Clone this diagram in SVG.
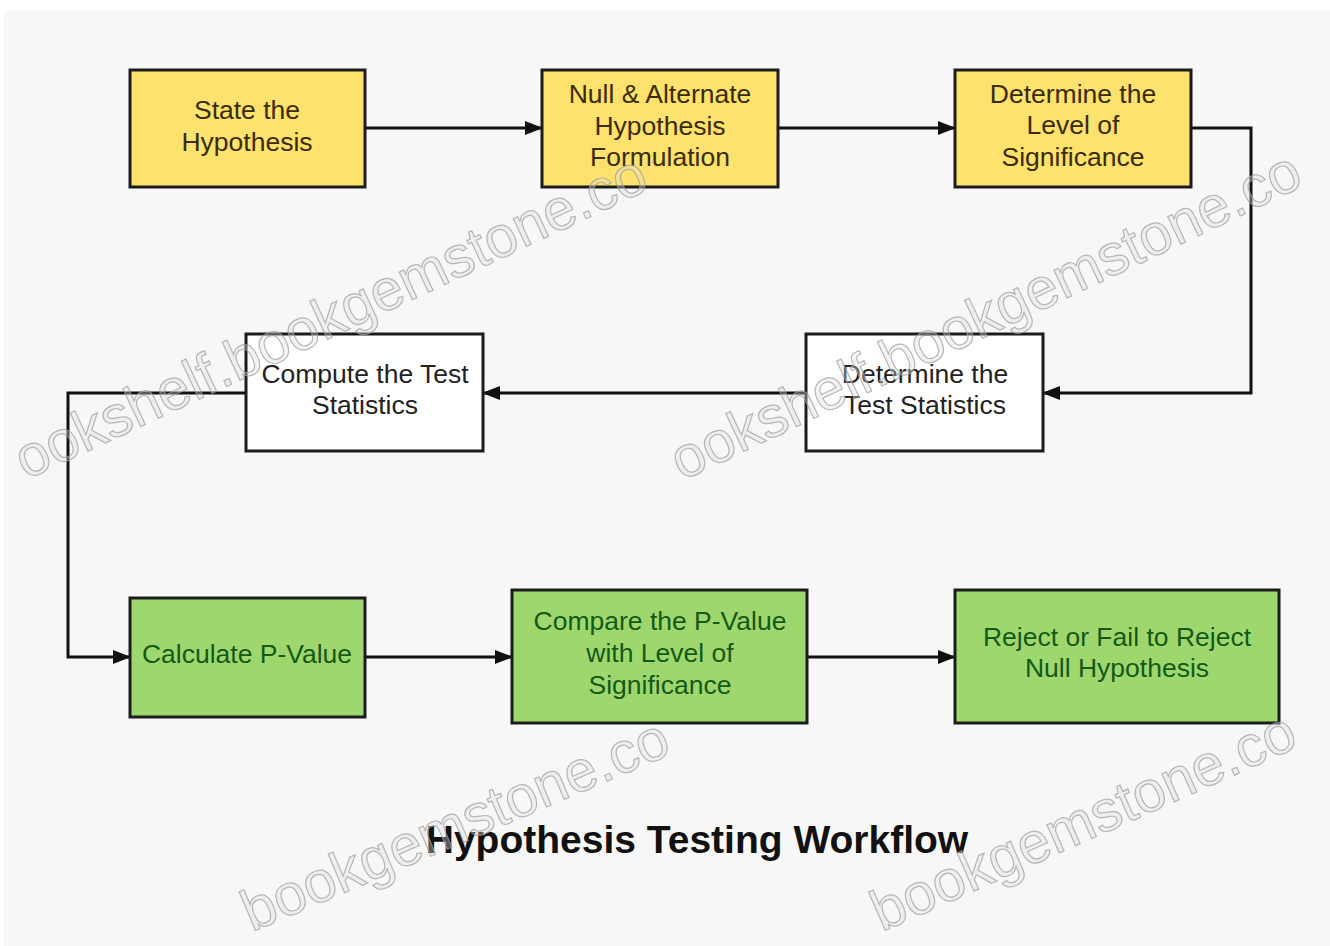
<svg xmlns="http://www.w3.org/2000/svg" width="1330" height="946" viewBox="0 0 1330 946">
  <defs>
    <marker id="arr" viewBox="0 0 18 14" refX="17" refY="7" markerWidth="18" markerHeight="14" markerUnits="userSpaceOnUse" orient="auto">
      <path d="M0,0 L18,7 L0,14 Z" fill="#111"/>
    </marker>
    <style>
      .box { stroke: #1c1c1c; stroke-width: 3; }
      .yel { fill: #fde26d; }
      .wht { fill: #ffffff; }
      .grn { fill: #9fd76f; }
      .lbl { font-family: "Liberation Sans", Arial, sans-serif; font-size: 26.5px; text-anchor: middle; }
      .ty { fill: #3a2c00; }
      .tw { fill: #222222; }
      .tg { fill: #145a14; }
      .conn { fill: none; stroke: #111; stroke-width: 3; }
      .wm { font-family: "Liberation Sans", Arial, sans-serif; font-size: 58px; fill: #dcdcdc; fill-opacity: 0.35; stroke: #9c9c9c; stroke-width: 1.2; stroke-opacity: 0.7; }
      .title { font-family: "Liberation Sans", Arial, sans-serif; font-size: 39px; font-weight: bold; text-anchor: middle; fill: #111; }
    </style>
  </defs>
  <rect x="0" y="0" width="1330" height="946" fill="#ffffff"/>
  <rect x="4" y="11" width="1326" height="935" fill="#f7f7f7"/>

  <g id="connectors">
    <path class="conn" d="M365,128 L542,128" marker-end="url(#arr)"/>
    <path class="conn" d="M778,128 L955,128" marker-end="url(#arr)"/>
    <path class="conn" d="M1191,128 L1251,128 L1251,393 L1043,393" marker-end="url(#arr)"/>
    <path class="conn" d="M806,393 L483,393" marker-end="url(#arr)"/>
    <path class="conn" d="M246,393 L68,393 L68,657 L130,657" marker-end="url(#arr)"/>
    <path class="conn" d="M365,657 L512,657" marker-end="url(#arr)"/>
    <path class="conn" d="M807,657 L955,657" marker-end="url(#arr)"/>
  </g>

  <g id="n1">
    <rect class="box yel" x="130" y="70" width="235" height="117"/>
    <text class="lbl ty" x="247" y="119">State the</text>
    <text class="lbl ty" x="247" y="151">Hypothesis</text>
  </g>
  <g id="n2">
    <rect class="box yel" x="542" y="70" width="236" height="117"/>
    <text class="lbl ty" x="660" y="103">Null &amp; Alternate</text>
    <text class="lbl ty" x="660" y="135">Hypothesis</text>
    <text class="lbl ty" x="660" y="166">Formulation</text>
  </g>
  <g id="n3">
    <rect class="box yel" x="955" y="70" width="236" height="117"/>
    <text class="lbl ty" x="1073" y="103">Determine the</text>
    <text class="lbl ty" x="1073" y="134">Level of</text>
    <text class="lbl ty" x="1073" y="166">Significance</text>
  </g>
  <g id="n4">
    <rect class="box wht" x="806" y="334" width="237" height="117"/>
    <text class="lbl tw" x="925" y="383">Determine the</text>
    <text class="lbl tw" x="925" y="414">Test Statistics</text>
  </g>
  <g id="n5">
    <rect class="box wht" x="246" y="334" width="237" height="117"/>
    <text class="lbl tw" x="365" y="383">Compute the Test</text>
    <text class="lbl tw" x="365" y="414">Statistics</text>
  </g>
  <g id="n6">
    <rect class="box grn" x="130" y="598" width="235" height="119"/>
    <text class="lbl tg" x="247" y="663">Calculate P-Value</text>
  </g>
  <g id="n7">
    <rect class="box grn" x="512" y="590" width="295" height="133"/>
    <text class="lbl tg" x="660" y="630">Compare the P-Value</text>
    <text class="lbl tg" x="660" y="662">with Level of</text>
    <text class="lbl tg" x="660" y="694">Significance</text>
  </g>
  <g id="n8">
    <rect class="box grn" x="955" y="590" width="324" height="133"/>
    <text class="lbl tg" x="1117" y="646">Reject or Fail to Reject</text>
    <text class="lbl tg" x="1117" y="677">Null Hypothesis</text>
  </g>

  <g id="title">
    <text class="title" x="697" y="853">Hypothesis Testing Workflow</text>
  </g>

  <g id="watermarks">
    <text class="wm" transform="translate(26,480) rotate(-25)">ookshelf.bookgemstone.co</text>
    <text class="wm" transform="translate(682,481) rotate(-25.4)">ookshelf.bookgemstone.co</text>
    <text class="wm" transform="translate(252,932) rotate(-23)">bookgemstone.co</text>
    <text class="wm" transform="translate(882,932) rotate(-24)">bookgemstone.co</text>
  </g>
</svg>
